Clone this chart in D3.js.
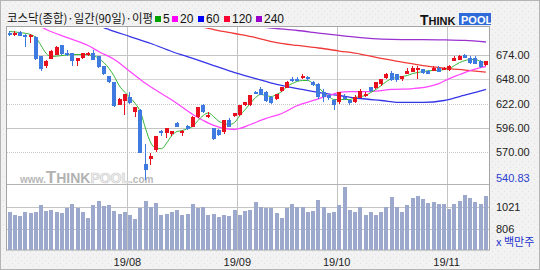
<!DOCTYPE html>
<html>
<head>
<meta charset="utf-8">
<script src="https://cdn.jsdelivr.net/npm/d3@7"></script>
<style>
	html, body { margin: 0; padding: 0; background: #fff; }
	svg { display: block; }
	text { font-family: "Liberation Sans", Arial, sans-serif; }
</style>
</head>
<body>
<div id="chart"></div>
<script>
(function () {
	'use strict';

	// daily candles, 2019-07-01 .. 2019-11-12 (92 sessions)
	var openVals = [697.3, 695.2, 698.4, 695.2, 693.1, 693.1, 671.9, 662.3, 669.8, 674,
		683.6, 675.5, 675.1, 666.6, 669.8, 673, 676.1, 671.9, 661.3, 650.7,
		644.3, 620.9, 624.1, 629.4, 612.5, 615.6, 557.3, 562.6, 572.1, 592.3,
		590.2, 589.1, 601.8, 591.2, 597.6, 597.6, 607.1, 619.9, 608.2, 595.5,
		594.4, 591.2, 605, 608.2, 609.3, 619.9, 619.9, 634.7, 637.9, 634.7,
		629.4, 626.2, 634.7, 639, 648.5, 648.5, 648.5, 649.6, 645.3, 643.2,
		633.7, 630.5, 626.2, 623.1, 629.4, 625.2, 624.1, 628.4, 630.5, 639,
		637.9, 642.2, 649.6, 654.9, 652.8, 647.5, 653.8, 656, 658.1, 658.1,
		657, 657, 660.2, 659.1, 658.1, 667.6, 668.7, 674, 670.8, 670.8,
		667.6, 662.3];
	var highVals = [699, 699, 699, 696, 696, 694, 672.5, 668, 679, 683.5,
		684.5, 679.3, 676, 670.8, 676, 677, 679.3, 672.5, 662, 651.5,
		645, 628, 632.5, 634.7, 618.5, 616.5, 578.5, 569, 588, 594.4,
		596.5, 593, 602.5, 594.4, 599, 609, 618.5, 621, 613.5, 596.5,
		595, 605, 606.1, 612, 620.5, 624, 631.5, 635.8, 639, 635.5,
		630, 632.5, 640, 646, 649.6, 650, 653.8, 650.7, 646, 644,
		636.9, 631.5, 627, 634.5, 631.6, 626, 630.5, 637, 634, 640,
		645.3, 648.5, 654.9, 656, 653.8, 651.5, 660.2, 661.3, 661.3, 659,
		658, 661.3, 661.3, 661, 663, 672, 674, 675, 672, 671.9,
		668.7, 667.6];
	var lowVals = [694, 693.5, 693.5, 682.5, 686.7, 668.5, 657, 660.2, 669, 673,
		673, 671.9, 662.3, 661.3, 669, 672, 668, 659.5, 652, 643.5,
		618, 620, 610.3, 622, 608.2, 569, 540.83, 556.2, 571, 587,
		585.9, 588, 597, 588, 593.5, 597, 606.5, 611.5, 607, 583,
		588, 590, 597, 607.5, 608.5, 619, 619, 631.6, 630.5, 624,
		622, 625.5, 634, 638, 645.3, 645.5, 647.5, 646.4, 641, 627.3,
		624.1, 625.2, 615.6, 622, 626, 620.9, 623, 627.5, 629.4, 634,
		637, 641, 648.5, 646.4, 645.3, 646.4, 652.8, 655, 648.5, 653,
		652.8, 656, 655, 658, 657, 666.6, 668, 670, 664.4, 663.5,
		660.2, 661.3];
	var closeVals = [696.3, 697.3, 694.2, 693.1, 695.2, 669.8, 658.1, 667.6, 678.2, 682.5,
		674, 674.5, 666.6, 669.8, 675.1, 675.6, 668.7, 660.2, 652.8, 644.3,
		618.8, 627.3, 631.6, 623.1, 617.8, 570, 550.9, 565.8, 587, 590.2,
		595.5, 592.3, 597.6, 593.3, 594.4, 608.2, 617.8, 612.5, 610.3, 583.8,
		589.1, 604, 597.6, 611.4, 619.9, 623.1, 630.5, 632.6, 631.6, 625.2,
		623.1, 631.6, 639, 645.3, 646.4, 647, 650.7, 647.5, 642.2, 629.4,
		628.4, 627.3, 620.9, 633.7, 627.3, 622, 629.4, 635.8, 632.6, 634.7,
		644.3, 647.5, 653.8, 647.5, 646.4, 650.7, 657, 660.2, 660.2, 653.8,
		653.8, 660.2, 656, 660.2, 662.3, 670.8, 672.9, 670.8, 665.5, 664.4,
		661.3, 666.6];
	// millions of shares
	var volumeVals = [964, 938, 928, 970, 955, 970, 1036, 977, 987, 964,
		955, 1003, 1042, 1003, 970, 912, 1036, 1075, 1026, 1033,
		977, 948, 970, 941, 896, 1003, 1075, 1019, 1052, 941,
		948, 967, 987, 941, 948, 1045, 1006, 1019, 941, 948,
		921, 938, 931, 987, 941, 980, 987, 1062, 1019, 1003,
		1003, 955, 906, 1003, 1042, 1019, 1019, 964, 980, 1085,
		1019, 955, 964, 1036, 1216, 987, 970, 1019, 938, 970,
		938, 964, 1019, 1111, 1019, 970, 1036, 1107, 1124, 1091,
		1058, 1068, 1042, 1042, 997, 1045, 1078, 1133, 1101, 1068,
		1045, 1124];

	// moving averages: [candle index, value]
	var ma5 = [[0, 698.4], [2, 697.3], [4, 695.2], [5, 692], [6, 683.6], [7, 675.1], [8, 671.9], [10, 672.9],
		[12, 674], [14, 674], [16, 672.9], [17, 669.8], [18, 665.5], [19, 659.1], [20, 650.7], [21, 640.5],
		[22, 634], [23, 628.4], [24, 622], [25, 613], [26, 595], [27, 580], [28, 574.5], [29, 574],
		[30, 580], [31, 588], [32, 592.3], [33, 593.3], [34, 595.5], [35, 597.6], [36, 604], [37, 609.3],
		[38, 612], [39, 608], [40, 603], [41, 600.8], [42, 599.7], [43, 602], [44, 609.3], [45, 615.6],
		[46, 622], [47, 628.4], [48, 631.6], [49, 630.5], [50, 629.4], [51, 631.6], [52, 634.7], [53, 640],
		[54, 643.2], [56, 646.4], [57, 646.4], [58, 643.2], [59, 639], [60, 633.7], [61, 629.4], [62, 626.2],
		[65, 626.2], [66, 628.4], [67, 629.4], [68, 630.5], [69, 633.7], [70, 636.9], [71, 641.1], [72, 645.3],
		[73, 648.5], [74, 649.6], [75, 650.7], [76, 651.7], [77, 653.8], [78, 654.9], [79, 656], [81, 657],
		[82, 657], [83, 658.1], [84, 659.1], [85, 662.3], [86, 665.5], [87, 667.6], [88, 668.7], [89, 668.7],
		[90, 666.6], [91, 665.5]];
	var ma20 = [[5, 706.5], [6, 703.5], [7, 700.5], [11, 692], [15, 683.6], [17, 677.2], [20, 668.7], [23, 656],
		[26, 643.2], [29, 632.6], [32, 622], [35, 610.3], [37, 604], [39, 598.7], [41, 595.5], [43, 594.4],
		[44, 595.5], [46, 599.7], [49, 606.1], [52, 611.4], [55, 619.9], [58, 625.2], [61, 630.5], [63, 633.7],
		[65, 634.7], [69, 634.7], [73, 636.9], [77, 637.9], [80, 640], [82, 643.2], [84, 648.5], [86, 652.8],
		[88, 657], [90, 660.2], [91, 661.3]];
	var ma60 = [[17, 706], [18, 702.6], [19, 700.5], [23, 693.1], [27, 685.7], [31, 677.2], [35, 669.8], [39, 662.3],
		[43, 654.9], [47, 648.5], [51, 642.2], [55, 637.9], [59, 633.7], [63, 630.5], [67, 627.3], [71, 625.2],
		[75, 623.1], [79, 623.1], [83, 625.2], [86, 629.4], [89, 633.7], [91, 636.9]];
	var ma120 = [[36, 705.5], [37, 703.2], [39, 700.5], [43, 696.3], [47, 692], [51, 686.7], [55, 683.6], [59, 680.9],
		[63, 677.7], [67, 674.5], [71, 669.8], [75, 666], [79, 662.3], [83, 659.6], [87, 657.5], [91, 655.4]];
	var ma240 = [[46, 705], [48, 703.2], [51, 701.6], [55, 699.5], [59, 696.8], [63, 694.2], [67, 692], [71, 690.4],
		[75, 689.9], [79, 689.9], [83, 689.6], [87, 688.9], [91, 687.3]];

	var maNames = ['5', '20', '60', '120', '240'];
	var priceTicks = [674, 648, 622, 596, 570];
	var volumeTicks = [1021, 806];
	var monthStarts = [23, 44, 63, 84];
	var monthLabels = ['19/08', '19/09', '19/10', '19/11'];

	var width = 540,
		height = 270,
		plotLeft = 6,
		plotRight = 489,
		priceTop = 27,
		priceBottom = 185,
		volTop = 186,
		volBottom = 250,
		labelX = 496;

	var upColor = '#e8101e',
		downColor = '#3f7ae0',
		volColor = '#9ca9cc',
		maColors = ['#36b536', '#ff47ff', '#3535e8', '#f03a3a', '#9a30d0'],
		legendColors = ['#00a000', '#ff00ff', '#0000ff', '#ff0033', '#9900cc'];

	var svg, x, y, yVol;

	function init() {
		_initSvg();

		x = d3.scaleBand().domain(d3.range(closeVals.length)).range([7, 488.5]);
		y = d3.scaleLinear().domain([535.5, 703.2]).range([priceBottom, priceTop]);
		yVol = d3.scaleLinear().domain([596, 1222]).range([volBottom, volTop]);

		_drawFrame();
		_drawGrid();
		_drawWatermark();
		_drawVolume();
		_drawAverages();
		_drawCandles();
		_drawLabels();
		_drawHeader();
	}

	function _center(i) {
		return x(i) + x.step() / 2;
	}

	function _crisp(v) {
		return Math.round(v) + 0.5;
	}

	function _initSvg() {
		svg = d3.select('#chart').append('svg')
			.attr('width', width)
			.attr('height', height);

		var defs = svg.append('defs');

		var pat = defs.append('pattern')
			.attr('id', 'bg-dots')
			.attr('width', 6)
			.attr('height', 6)
			.attr('patternUnits', 'userSpaceOnUse');
		pat.append('rect').attr('width', 6).attr('height', 6).attr('fill', '#f2f2f2');
		pat.append('rect').attr('x', 0).attr('y', 5).attr('width', 1).attr('height', 1).attr('fill', '#dedede');
		pat.append('rect').attr('x', 3).attr('y', 2).attr('width', 1).attr('height', 1).attr('fill', '#e4e4e4');

		defs.append('clipPath')
			.attr('id', 'price-clip')
			.append('rect')
			.attr('x', plotLeft + 1)
			.attr('y', priceTop + 1)
			.attr('width', plotRight - plotLeft - 1)
			.attr('height', priceBottom - priceTop - 1);
	}

	function _drawFrame() {
		svg.append('rect')
			.attr('width', width)
			.attr('height', height)
			.attr('fill', 'url(#bg-dots)');

		svg.append('rect')
			.attr('x', 0.5)
			.attr('y', 0.5)
			.attr('width', width - 1)
			.attr('height', height - 1)
			.attr('fill', 'none')
			.attr('stroke', '#b4b4b4');

		svg.append('rect')
			.attr('x', plotLeft + 0.5)
			.attr('y', priceTop - 0.5)
			.attr('width', plotRight - plotLeft)
			.attr('height', volBottom - priceTop + 0.5)
			.attr('fill', '#fff')
			.attr('stroke', '#a4a4a4');
	}

	function _drawGrid() {
		var g = svg.append('g').attr('class', 'grid');

		// alternate solid / light / dotted rules like the original
		var styles = [
			{stroke: '#c4c4c4', dash: null},
			{stroke: '#d4d4d4', dash: null},
			{stroke: '#c8c8c8', dash: '1,1'},
			{stroke: '#c4c4c4', dash: null},
			{stroke: '#c8c8c8', dash: '1,1'}
		];

		g.selectAll('line.price')
			.data(priceTicks)
			.enter().append('line')
			.attr('class', 'price')
			.attr('x1', plotLeft + 1)
			.attr('x2', plotRight)
			.attr('y1', function (d) { return _crisp(y(d)); })
			.attr('y2', function (d) { return _crisp(y(d)); })
			.attr('stroke', function (d, i) { return styles[i].stroke; })
			.attr('stroke-dasharray', function (d, i) { return styles[i].dash; });

		g.selectAll('line.vol')
			.data(volumeTicks)
			.enter().append('line')
			.attr('class', 'vol')
			.attr('x1', plotLeft + 1)
			.attr('x2', plotRight)
			.attr('y1', function (d) { return _crisp(yVol(d)); })
			.attr('y2', function (d) { return _crisp(yVol(d)); })
			.attr('stroke', '#c4c4c4');

		g.selectAll('line.month')
			.data(monthStarts)
			.enter().append('line')
			.attr('class', 'month')
			.attr('x1', function (d) { return _crisp(x(d)); })
			.attr('x2', function (d) { return _crisp(x(d)); })
			.attr('y1', priceTop)
			.attr('y2', volBottom)
			.attr('stroke', '#c4c4c4');

		g.append('line')
			.attr('x1', plotLeft + 1)
			.attr('x2', plotRight)
			.attr('y1', priceBottom - 0.5)
			.attr('y2', priceBottom - 0.5)
			.attr('stroke', '#b4b4b4');
	}

	function _drawWatermark() {
		var t = svg.append('text')
			.attr('x', 20)
			.attr('y', 182.5)
			.style('font-weight', 'bold');

		t.append('tspan').text('www.')
			.style('font-size', '10px')
			.attr('fill', '#b8b8b8');
		t.append('tspan').text('T')
			.style('font-size', '17px')
			.attr('fill', '#b2b2b2');
		t.append('tspan').text('HINK')
			.style('font-size', '14px')
			.attr('fill', '#b2b2b2');
		t.append('tspan').text('POOL')
			.style('font-size', '14px')
			.attr('fill', '#f0f0f0')
			.attr('stroke', '#cfcfcf')
			.attr('stroke-width', 0.7);
		t.append('tspan').text('.com')
			.style('font-size', '10px')
			.attr('fill', '#b8b8b8');
	}

	function _drawVolume() {
		svg.append('g')
			.attr('shape-rendering', 'crispEdges')
			.selectAll('rect')
			.data(volumeVals)
			.enter().append('rect')
			.attr('x', function (d, i) { return Math.round(_center(i) - 2); })
			.attr('y', function (d) { return Math.round(yVol(d)); })
			.attr('width', 4)
			.attr('height', function (d) { return volBottom - Math.round(yVol(d)); })
			.attr('fill', volColor);
	}

	function _drawAverages() {
		var line = d3.line()
			.x(function (d) { return _center(d[0]); })
			.y(function (d) { return y(d[1]); })
			.curve(d3.curveMonotoneX);

		svg.append('g')
			.attr('clip-path', 'url(#price-clip)')
			.selectAll('path')
			.data([ma240, ma120, ma60, ma20, ma5])
			.enter().append('path')
			.attr('d', line)
			.attr('fill', 'none')
			.attr('stroke', function (d, i) { return maColors[4 - i]; })
			.attr('stroke-width', function (d, i) { return i === 4 ? 1 : 1.3; });
	}

	function _drawCandles() {
		var candle = svg.append('g')
			.attr('shape-rendering', 'crispEdges')
			.selectAll('g')
			.data(closeVals)
			.enter().append('g')
			.attr('fill', function (d, i) { return d >= openVals[i] ? upColor : downColor; })
			.attr('stroke', function (d, i) { return d >= openVals[i] ? upColor : downColor; });

		candle.append('line')
			.attr('x1', function (d, i) { return _crisp(_center(i) - 0.5); })
			.attr('x2', function (d, i) { return _crisp(_center(i) - 0.5); })
			.attr('y1', function (d, i) { return y(highVals[i]); })
			.attr('y2', function (d, i) { return y(lowVals[i]); });

		candle.append('rect')
			.attr('stroke', 'none')
			.attr('x', function (d, i) { return Math.round(_center(i) - 2); })
			.attr('y', function (d, i) { return Math.round(y(Math.max(d, openVals[i]))); })
			.attr('width', 4)
			.attr('height', function (d, i) {
				return Math.max(2, Math.round(Math.abs(y(d) - y(openVals[i]))));
			});
	}

	function _drawLabels() {
		var g = svg.append('g')
			.style('font-size', '11px')
			.attr('fill', '#222');

		g.selectAll('text.price')
			.data(priceTicks)
			.enter().append('text')
			.attr('x', labelX)
			.attr('y', function (d) { return y(d) + 4; })
			.text(function (d) { return d.toFixed(2); });

		var low = d3.min(lowVals);
		g.append('text')
			.attr('x', labelX)
			.attr('y', y(low) + 2)
			.attr('fill', '#2b3fd0')
			.text(low.toFixed(2));

		g.selectAll('text.vol')
			.data(volumeTicks)
			.enter().append('text')
			.attr('x', labelX)
			.attr('y', function (d) { return yVol(d) + 4; })
			.text(function (d) { return d; });

		g.append('text')
			.attr('x', labelX)
			.attr('y', 246)
			.attr('fill', '#2233cc')
			.style('font-family', '"Noto Sans CJK KR", sans-serif')
			.text('x 백만주');

		g.selectAll('text.month')
			.data(monthStarts)
			.enter().append('text')
			.attr('x', function (d) { return x(d); })
			.attr('y', 266)
			.attr('text-anchor', 'middle')
			.text(function (d, i) { return monthLabels[i]; });
	}

	function _drawHeader() {
		svg.append('text')
			.attr('x', 7)
			.attr('y', 23)
			.attr('fill', '#111')
			.attr('textLength', 146)
			.attr('lengthAdjust', 'spacingAndGlyphs')
			.style('font-family', '"Noto Sans CJK KR", sans-serif')
			.style('font-size', '12px')
			.text('코스닥(종합)·일간(90일)·이평');

		var legendX = [155, 172, 198, 224, 256];
		var legend = svg.append('g')
			.selectAll('g')
			.data(maNames)
			.enter().append('g')
			.attr('transform', function (d, i) { return 'translate(' + legendX[i] + ',16)'; });

		legend.append('rect')
			.attr('width', 6)
			.attr('height', 6)
			.attr('fill', function (d, i) { return legendColors[i]; });

		legend.append('text')
			.attr('x', 8)
			.attr('y', 7)
			.attr('fill', '#111')
			.style('font-size', '12px')
			.text(function (d) { return d; });

		// THINKPOOL logo
		var logo = svg.append('g').style('font-weight', 'bold');
		logo.append('rect')
			.attr('x', 459)
			.attr('y', 13)
			.attr('width', 32)
			.attr('height', 12)
			.attr('fill', '#2f6bd8');
		var t = logo.append('text')
			.attr('x', 420)
			.attr('y', 25)
			.attr('fill', '#111');
		t.append('tspan').text('T').style('font-size', '14px');
		t.append('tspan').text('HINK').style('font-size', '11px');
		logo.append('text')
			.attr('x', 461)
			.attr('y', 24)
			.attr('fill', '#fff')
			.style('font-size', '11px')
			.text('POOL');
	}

	init();
})();
</script>
</body>
</html>
